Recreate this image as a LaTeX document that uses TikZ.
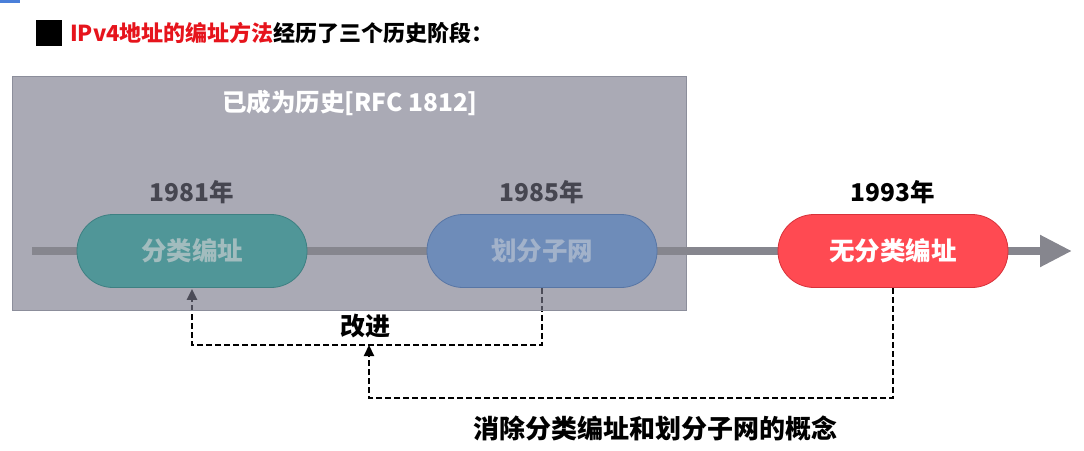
\documentclass[tikz,border=0pt]{standalone}
\usepackage{fontspec}
\setmainfont{Noto Sans CJK SC}
\usetikzlibrary{arrows.meta}
\definecolor{boxfill}{RGB}{121,121,139}
\definecolor{boxline}{RGB}{140,142,155}
\definecolor{barcol}{RGB}{134,134,142}
\definecolor{tealfill}{RGB}{80,150,152}
\definecolor{tealline}{RGB}{62,128,130}
\definecolor{tealtext}{RGB}{162,188,190}
\definecolor{bluefill}{RGB}{110,140,185}
\definecolor{blueline}{RGB}{88,118,165}
\definecolor{bluetext}{RGB}{162,178,202}
\definecolor{redfill}{RGB}{255,74,82}
\definecolor{redline}{RGB}{215,50,58}
\definecolor{yeargray}{RGB}{70,70,80}
\definecolor{titlered}{RGB}{230,20,28}
\definecolor{topblue}{RGB}{74,127,217}
\pgfdeclarelayer{conn}
\pgfdeclarelayer{boxl}
\pgfsetlayers{conn,boxl,main}
\tikzset{
  pill/.style={rectangle, rounded corners=36pt, minimum width=230pt, minimum height=73pt, line width=0.8pt, font=\bfseries\fontsize{25.5}{30}\selectfont, inner sep=0pt},
  yearlbl/.style={font=\bfseries\fontsize{24.5}{28}\selectfont, inner sep=0pt},
  note/.style={font=\bfseries\fontsize{25}{29}\selectfont, inner sep=0pt, text=black},
  dconn/.style={dash pattern=on 6pt off 3pt, line width=2.2pt, -{Triangle[length=11pt,width=10pt]}},
}
\begin{document}
\begin{tikzpicture}[x=1pt,y=-1pt]
\useasboundingbox (0,0) rectangle (1084,450);
\fill[topblue] (0,0) rectangle (20,3);
% title
\node[fill=black, minimum width=26pt, minimum height=26pt, inner sep=0pt] (sq) at (49,33) {};
\node[anchor=west, inner sep=0pt, font=\bfseries\fontsize{22}{26}\selectfont] (title) at (70,33) {\textcolor{titlered}{IPv4地址的编址方法}经历了三个历史阶段：};
% timeline bar
\coordinate (tstart) at (32,251);
\coordinate (tend) at (1072,251);
\draw[barcol, line width=8pt, -{Triangle[length=32pt,width=30pt]}] (tstart) -- (tend);
% nodes
\node[pill, fill=tealfill, draw=tealline, text=tealtext] (n1) at (192,251) {分类编址};
\node[pill, fill=bluefill, draw=blueline, text=bluetext] (n2) at (542,251) {划分子网};
\node[pill, fill=redfill, draw=redline, text=white] (n3) at (893,251) {无分类编址};
\node[yearlbl, text=yeargray] (y1) at (192,192) {1981年};
\node[yearlbl, text=yeargray] (y2) at (542,192) {1985年};
\node[yearlbl, text=black] (y3) at (893,192) {1993年};
% history box
\begin{pgfonlayer}{boxl}
\fill[boxfill, fill opacity=0.635] (12,76) rectangle (686,310);
\draw[boxline, line width=1pt] (12,76) rectangle (686,310);
\end{pgfonlayer}
\node[font=\bfseries\fontsize{24.5}{28}\selectfont, text=white, inner sep=0pt] (hist) at (350,103) {已成为历史[RFC 1812]};
% connectors
\coordinate (jn) at (369,345);
\begin{pgfonlayer}{conn}
\draw[dconn] (n2.south) -- (n2.south |- 0,345) -| ([yshift=-1pt]n1.south);
\draw[dconn] (n3.south) -- (n3.south |- 0,398) -| (jn);
\end{pgfonlayer}
\node[note] (imp) at (365,326) {改进};
\node[note, font=\bfseries\fontsize{26}{30}\selectfont] (elim) at (655,428) {消除分类编址和划分子网的概念};
\end{tikzpicture}
\end{document}
